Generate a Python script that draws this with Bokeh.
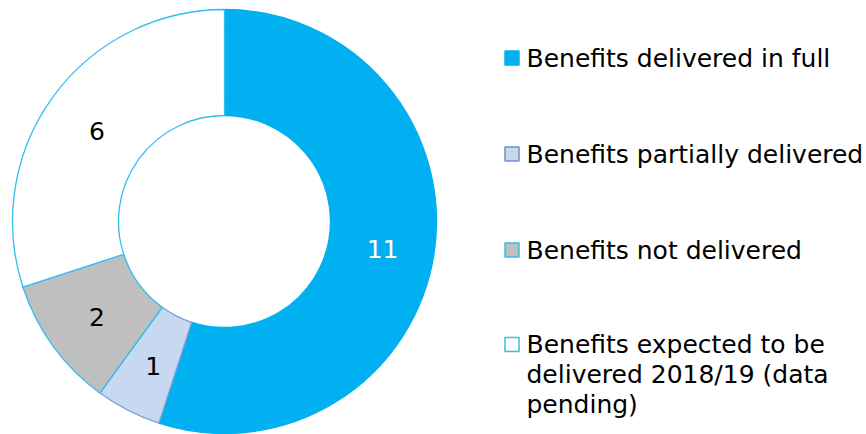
import math
from bokeh.plotting import figure
from bokeh.models import Range1d, ColumnDataSource
from bokeh.core.properties import value
from bokeh.embed import file_html
from bokeh.resources import INLINE

# ---- data ----
categories = [
    "Benefits delivered in full",
    "Benefits partially delivered",
    "Benefits not delivered",
    "Benefits expected to be\ndelivered 2018/19 (data\npending)",
]
counts = [11, 1, 2, 6]
fill_colors = ["#00B0F0", "#C6D9F1", "#BFBFBF", "#FFFFFF"]
edge_colors = ["#00B0F0", "#7F9BD3", "#33BDF0", "#33BDF0"]
label_colors = ["#FFFFFF", "#000000", "#000000", "#000000"]

W, H = 866, 434
FONT = "DejaVu Sans"

p = figure(width=W, height=H, x_range=Range1d(0, W), y_range=Range1d(0, H),
           output_backend="svg", toolbar_location=None, min_border=0,
           background_fill_color="white", border_fill_color="white")
p.axis.visible = False
p.grid.visible = False
p.outline_line_color = None

# donut geometry (pixel units)
cx, cy = 224, H - 221
r_out, r_in = 212, 106
total = sum(counts)

starts, ends, mids = [], [], []
cum = 0
for c in counts:
    a0 = math.pi / 2 - 2 * math.pi * cum / total
    cum += c
    a1 = math.pi / 2 - 2 * math.pi * cum / total
    starts.append(a0)
    ends.append(a1)
    mids.append((a0 + a1) / 2)

for i in range(len(counts)):
    p.annular_wedge(x=cx, y=cy, inner_radius=r_in, outer_radius=r_out,
                    start_angle=starts[i], end_angle=ends[i], direction="clock",
                    fill_color=fill_colors[i], line_color=edge_colors[i],
                    line_width=1.3)

r_mid = (r_in + r_out) / 2
lab = ColumnDataSource(dict(
    x=[cx + r_mid * math.cos(m) + 1 for m in mids],
    y=[cy + r_mid * math.sin(m) - 2.5 for m in mids],
    t=[str(c) for c in counts],
    col=label_colors,
))
p.text(x="x", y="y", text="t", source=lab, text_color="col",
       text_align="center", text_baseline="middle",
       text_font=value(FONT), text_font_size="25px")

# legend (manual)
row_top = 57.5
row_gap = 96
line_gap = 30
sq = 14
sq_x = 511.5
tx = 526
legend_edges = ["#00B0F0", "#6F8FCF", "#33BDF0", "#33BDF0"]
for i, name in enumerate(categories):
    yc = H - (row_top + i * row_gap - (1.5 if i == 3 else 0))
    p.rect(x=sq_x, y=yc, width=sq, height=sq, fill_color=fill_colors[i],
           line_color=legend_edges[i], line_width=1.5)
    for j, line in enumerate(name.split("\n")):
        p.text(x=[tx], y=[yc - j * line_gap], text=[line],
               text_color="#000000", text_align="left",
               text_baseline="middle",
               text_font=value(FONT), text_font_size="25px")

open("out.html", "w").write(file_html(p, INLINE))
